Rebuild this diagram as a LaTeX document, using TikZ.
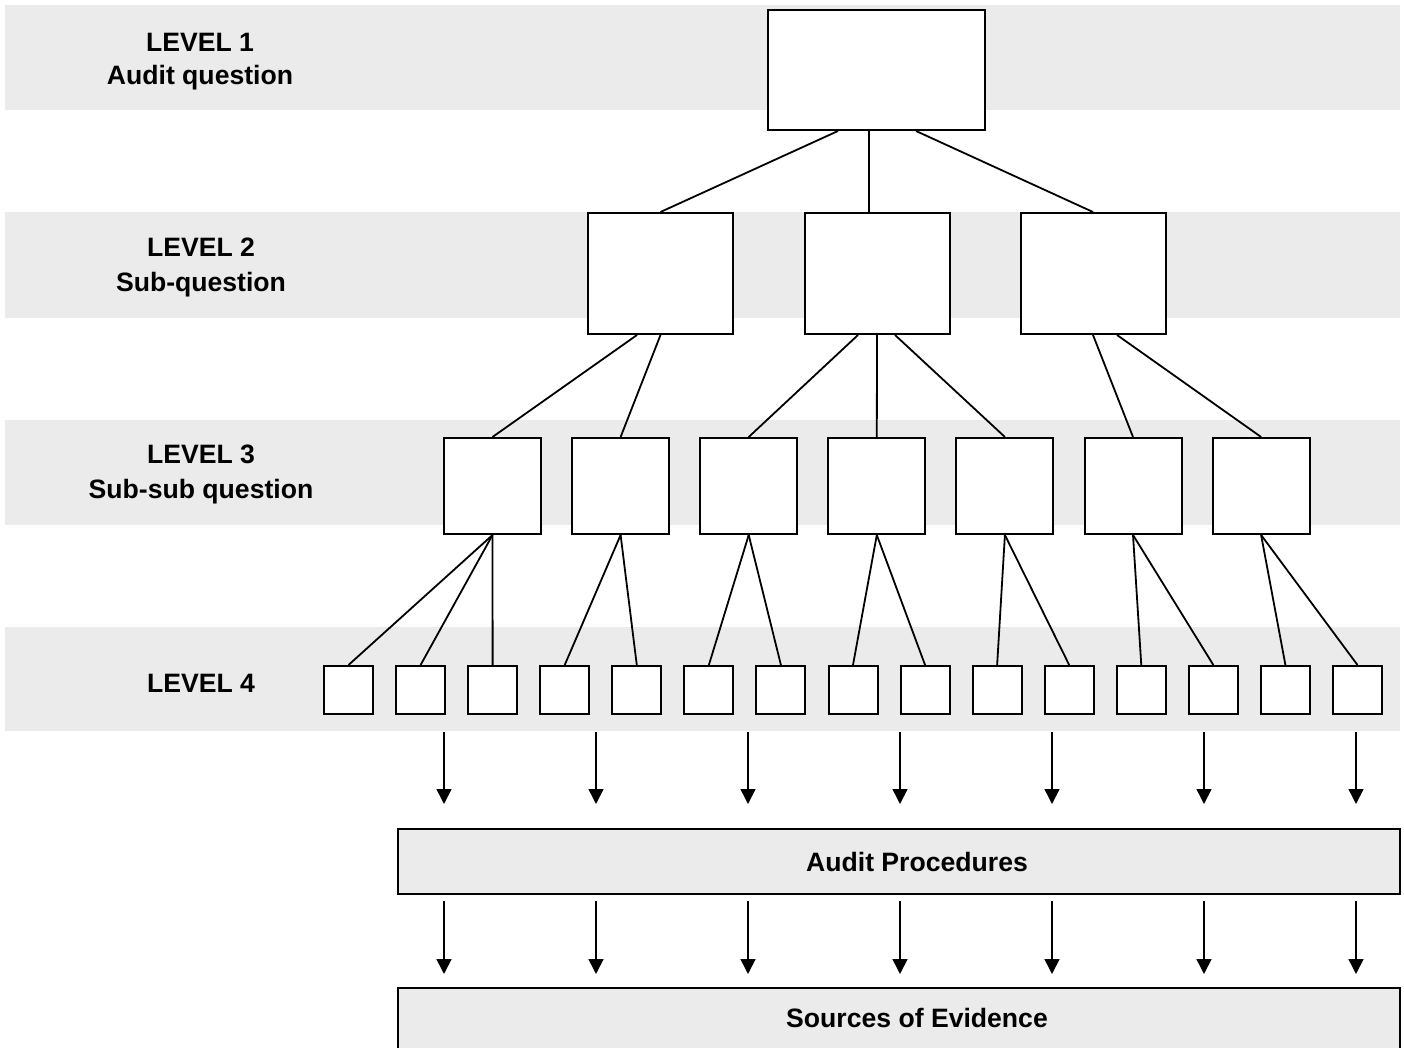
\documentclass[tikz,border=0pt]{standalone}
\usepackage{fontspec}
\setmainfont{Liberation Sans}
\usetikzlibrary{arrows.meta,calc}
\definecolor{bandgray}{HTML}{EBEBEB}
\begin{document}
\begin{tikzpicture}[x=1pt,y=-1pt,
  band/.style={fill=bandgray,draw=none},
  box/.style={draw=black,line width=2pt,fill=white,inner sep=0pt},
  bigbox/.style={box,fill=bandgray},
  link/.style={draw=black,line width=1.8pt},
  flow/.style={draw=black,line width=1.6pt,-{Triangle[width=15pt,length=15pt]}},
  lbl/.style={font=\fontsize{26.6}{31}\selectfont\bfseries,anchor=base,inner sep=0pt}]
\clip (0,0) rectangle (1404,1048);
\useasboundingbox (0,0) rectangle (1404,1048);
% grey level bands
\fill[band] (5,5) rectangle (1400,110);
\fill[band] (5,212) rectangle (1400,318);
\fill[band] (5,420) rectangle (1400,525);
\fill[band] (5,627) rectangle (1400,731);
% level labels
\node[lbl] (t1a) at (200,52) {LEVEL 1};
\node[lbl] (t1b) at (200,85) {Audit question};
\node[lbl] (t2a) at (201,257) {LEVEL 2};
\node[lbl] (t2b) at (201,291) {Sub-question};
\node[lbl] (t3a) at (201,463) {LEVEL 3};
\node[lbl] (t3b) at (201,498) {Sub-sub question};
\node[lbl] (t4a) at (201,692) {LEVEL 4};
% level 1
\node[box,minimum width=217pt,minimum height=120pt] (q) at (876.5,70) {};
% level 2
\foreach \i/\x in {1/660.5,2/877,3/1093}
  \node[box,minimum width=145pt,minimum height=121pt] (s\i) at (\x,273.5) {};
% level 3
\foreach \i in {1,...,7}
  \node[box,minimum width=97pt,minimum height=96pt] (u\i) at ({492.5+128.1*(\i-1)},486) {};
% level 4
\foreach \i in {1,...,15}
  \node[box,minimum width=49pt,minimum height=48pt] (w\i) at ({348.5+72.07*(\i-1)},690) {};
% connectors level 1 -> level 2
\draw[link] ([xshift=-38.5pt]q.south) -- (s1.north);
\draw[link] ([xshift=-7.5pt]q.south) -- ([xshift=-8pt]s2.north);
\draw[link] ([xshift=39.5pt]q.south) -- (s3.north);
% connectors level 2 -> level 3
\draw[link] ([xshift=-23.5pt]s1.south) -- (u1.north);
\draw[link] (s1.south) -- (u2.north);
\draw[link] ([xshift=-19pt]s2.south) -- (u3.north);
\draw[link] (s2.south) -- (u4.north);
\draw[link] ([xshift=18pt]s2.south) -- (u5.north);
\draw[link] (s3.south) -- (u6.north);
\draw[link] ([xshift=24pt]s3.south) -- (u7.north);
% connectors level 3 -> level 4
\foreach \a/\b in {1/1,1/2,1/3,2/4,2/5,3/6,3/7,4/8,4/9,5/10,5/11,6/12,6/13,7/14,7/15}
  \draw[link] (u\a.south) -- (w\b.north);
% procedures and evidence
\node[bigbox,minimum width=1002pt,minimum height=65pt] (ap) at (899,861.5) {};
\node[lbl] (apt) at (917,871) {Audit Procedures};
\node[bigbox,minimum width=1002pt,minimum height=90pt] (se) at (899,1033) {};
\node[lbl] (set) at (917,1027) {Sources of Evidence};
% arrows
\foreach \i/\x in {1/444,2/596,3/748,4/900,5/1052,6/1204,7/1356} {
  \coordinate (a\i) at (\x,732);
  \coordinate (b\i) at (\x,804);
  \coordinate (c\i) at (\x,901);
  \coordinate (d\i) at (\x,974);
  \draw[flow] (a\i) -- (b\i);
  \draw[flow] (c\i) -- (d\i);
}
\end{tikzpicture}
\end{document}
